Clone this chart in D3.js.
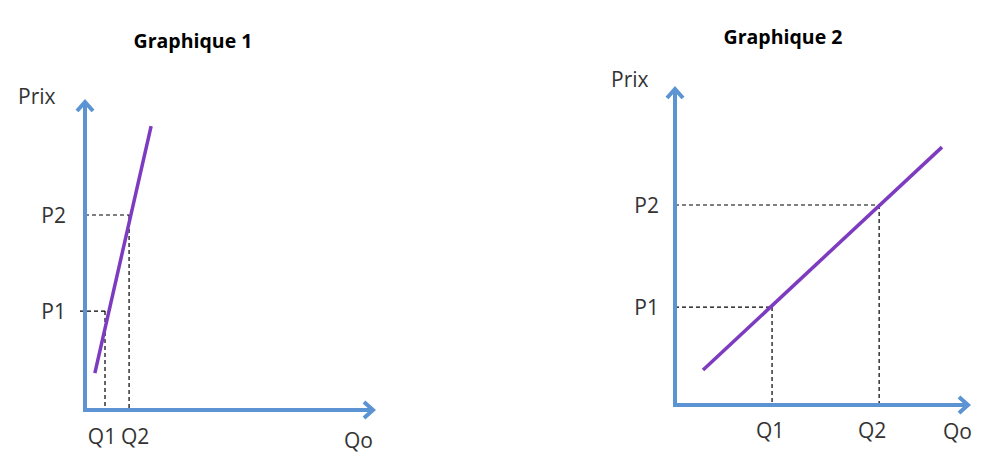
<!DOCTYPE html>
<html><head><meta charset="utf-8">
<script src="https://cdn.jsdelivr.net/npm/d3@7"></script>
<style>
html,body{margin:0;padding:0;background:#fff;}
svg{display:block;}
</style></head>
<body><svg id="c" width="1000" height="474"></svg>
<script>
// ---- data (in abstract units: 0..10 on each axis) ----
const titles = ["Graphique 1", "Graphique 2"];
const axisLabelsY = ["Prix", "Prix"];
const axisLabelsX = ["Qo", "Qo"];
const priceLabels = ["P1", "P2"];
const qtyLabels = ["Q1", "Q2"];
// chart 1: inelastic supply
const prices1 = [3.19, 6.29];
const quantities1 = [0.69, 1.52];
const supply1 = [[0.34, 1.19], [2.28, 9.16]];
// chart 2: elastic supply
const prices2 = [3.08, 6.29];
const quantities2 = [3.29, 6.92];
const supply2 = [[0.95, 1.10], [9.05, 8.11]];

// ---- layout ----
const panels = [
  {x0:85, x1:375, y0:410, y1:100, titleX:193, titleY:48, prixX:18, prixY:104,
   qoX:344, qoY:448, pLabelX:66, pDy:8, qLabelY:444, qDx:[-3, 6], p1Start:-5,
   prices:prices1, quantities:quantities1, supply:supply1},
  {x0:675, x1:970, y0:405, y1:87, titleX:783, titleY:44, prixX:611, prixY:87,
   qoX:943, qoY:439, pLabelX:659, pDy:8, qLabelY:438, qDx:[-2, -7], p1Start:0,
   prices:prices2, quantities:quantities2, supply:supply2}
];

const svg = d3.select("#c");
const blue = "#5b93d3", purple = "#7d3cbf", txt = "#333";
const font = "'Open Sans', 'Noto Sans', sans-serif";

panels.forEach((p, i) => {
  const x = d3.scaleLinear().domain([0, 10]).range([p.x0, p.x1]);
  const y = d3.scaleLinear().domain([0, 10]).range([p.y0, p.y1]);
  const g = svg.append("g");

  // title
  g.append("text").attr("x", p.titleX).attr("y", p.titleY)
    .attr("text-anchor", "middle").attr("font-family", font)
    .attr("font-weight", "bold").attr("font-size", 19.5).attr("fill", "#000")
    .text(titles[i]);

  // dashed guides
  p.prices.forEach((pv, k) => {
    const qv = p.quantities[k];
    g.append("line")
      .attr("x1", x(0) + (k === 0 ? p.p1Start : 0)).attr("x2", x(qv))
      .attr("y1", y(pv)).attr("y2", y(pv))
      .attr("stroke", "#000").attr("stroke-width", 1.2).attr("stroke-dasharray", "4,3");
    g.append("line")
      .attr("x1", x(qv)).attr("x2", x(qv))
      .attr("y1", y(pv)).attr("y2", y(0))
      .attr("stroke", "#000").attr("stroke-width", 1.2).attr("stroke-dasharray", "4,3");
  });

  // axes with open arrowheads
  const ax = g.append("g").attr("stroke", blue).attr("stroke-width", 4)
    .attr("fill", "none").attr("stroke-linecap", "butt").attr("stroke-linejoin", "miter");
  ax.append("path").attr("d", `M${x(0)},${y(10)+2} L${x(0)},${y(0)} L${x(10)-2},${y(0)}`);
  ax.append("path").attr("d", `M${x(0)-8},${y(10)+11} L${x(0)},${y(10)+2} L${x(0)+8},${y(10)+11}`);
  ax.append("path").attr("d", `M${x(10)-11},${y(0)-8} L${x(10)-2},${y(0)} L${x(10)-11},${y(0)+8}`);

  // supply line
  g.append("line")
    .attr("x1", x(p.supply[0][0])).attr("y1", y(p.supply[0][1]))
    .attr("x2", x(p.supply[1][0])).attr("y2", y(p.supply[1][1]))
    .attr("stroke", purple).attr("stroke-width", 3.5);

  // labels
  const lab = (tx, ty, s, anchor) => g.append("text").attr("x", tx).attr("y", ty)
    .attr("text-anchor", anchor).attr("font-family", font).attr("font-size", 21)
    .attr("fill", txt).text(s);
  lab(p.prixX, p.prixY, axisLabelsY[i], "start");
  lab(p.qoX, p.qoY, axisLabelsX[i], "start");
  p.prices.forEach((pv, k) => lab(p.pLabelX, y(pv) + p.pDy, priceLabels[k], "end"));
  p.quantities.forEach((qv, k) => lab(x(qv) + p.qDx[k], p.qLabelY, qtyLabels[k], "middle"));
});
</script></body></html>
